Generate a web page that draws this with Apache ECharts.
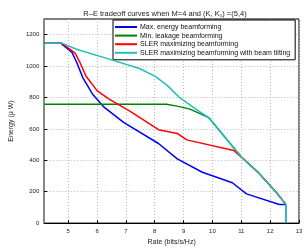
<!DOCTYPE html>
<html><head><meta charset="utf-8">
<script src="https://cdn.jsdelivr.net/npm/echarts@6/dist/echarts.min.js"></script>
<style>html,body{margin:0;padding:0;background:#fff}#c{width:306px;height:251px}</style>
</head><body><div id="c"></div>
<script>
const seriesNames = ['Max. energy beamforming','Min. leakage beamforming','SLER maximizing beamforming','SLER maximizing beamforming with beam tilting'];
const xTicks = [5,6,7,8,9,10,11,12,13];
const yTicks = [0,200,400,600,800,1000,1200];
const maxEnergy = [[4.17,1145],[4.75,1145],[5.13,1087],[5.29,1026],[5.51,925],[5.84,823],[6.22,742],[6.92,641],[8.13,507],[8.78,409],[9.65,324],[10.69,257],[11.18,186],[12.32,119],[12.54,119],[12.54,0]];
const minLeakage = [[4.17,757],[8.4,757],[8.78,745],[9.22,726],[9.87,672],[10.42,550],[11.01,419],[11.61,318],[12.21,196],[12.54,121]];
const sler = [[4.17,1145],[4.78,1145],[5.24,1083],[5.4,1026],[5.62,935],[6.0,844],[6.39,793],[7.15,712],[8.13,595],[8.78,571],[9.11,530],[10.74,463],[11.01,419],[11.61,318],[12.21,196],[12.54,121]];
const slerTilt = [[4.17,1145],[4.8,1145],[5.29,1107],[6.39,1046],[7.47,985],[8.02,935],[8.45,874],[8.84,803],[9.54,712],[9.87,672],[10.42,550],[11.01,419],[11.61,318],[12.21,196],[12.54,121],[12.54,0]];
const colors = ['#0000ff','#008000','#ff0000','#1fbfbf'];
const dataList = [maxEnergy, minLeakage, sler, slerTilt];

const chart = echarts.init(document.getElementById('c'), null, {renderer:'canvas'});
chart.setOption({
  animation:false,
  backgroundColor:'#fff',
  title:{text:'R–E tradeoff curves when M=4 and (K, K\u2081) =(5,4)', left:165, textAlign:'center', top:10, padding:0,
    textStyle:{fontSize:7.5,fontWeight:'normal',color:'#222',fontFamily:'Liberation Sans'}},
  grid:{left:29,right:7,top:19,bottom:19,show:true,borderColor:'#000',borderWidth:1,backgroundColor:'#fff'},
  legend:{orient:'vertical',left:113,top:20,data:seriesNames,icon:'rect',itemWidth:22,itemHeight:2,itemGap:0.6,
    padding:[3,5,3,2],backgroundColor:'#fff',borderColor:'#000',borderWidth:1,
    textStyle:{fontSize:7,lineHeight:8,color:'#111',fontFamily:'Liberation Sans',padding:[0,0,0,-2]}},
  xAxis:{type:'value',min:4.17,max:13,
    name:'Rate (bits/s/Hz)',nameLocation:'middle',nameGap:11,nameTextStyle:{fontSize:7,color:'#222',fontFamily:'Liberation Sans'},
    axisLine:{lineStyle:{color:'#000',width:1}},
    axisTick:{inside:true,length:3,customValues:xTicks,lineStyle:{color:'#000'}},
    axisLabel:{customValues:xTicks,fontSize:6,color:'#222',margin:5,fontFamily:'Liberation Sans'},
    splitLine:{show:true,lineStyle:{color:'#bbb',type:[1,2],width:1}}},
  yAxis:{type:'value',min:0,max:1300,
    name:'Energy (\u03bc W)',nameLocation:'middle',nameGap:24,nameTextStyle:{fontSize:7,color:'#222',fontFamily:'Liberation Sans'},
    axisLine:{show:true,lineStyle:{color:'#888',width:2}},
    axisTick:{show:true,inside:true,length:3,customValues:yTicks,lineStyle:{color:'#000'}},
    axisLabel:{customValues:yTicks,fontSize:6,color:'#222',margin:5,fontFamily:'Liberation Sans',formatter:v=>String(v)},
    splitLine:{show:true,lineStyle:{color:'#bbb',type:[1,2],width:1}}},
  series: seriesNames.map((n,i)=>({name:n,type:'line',data:dataList[i],showSymbol:false,symbol:'none',
    lineStyle:{color:colors[i],width:1.5},itemStyle:{color:colors[i]},z:i===1?3:2+i}))
});
</script></body></html>
